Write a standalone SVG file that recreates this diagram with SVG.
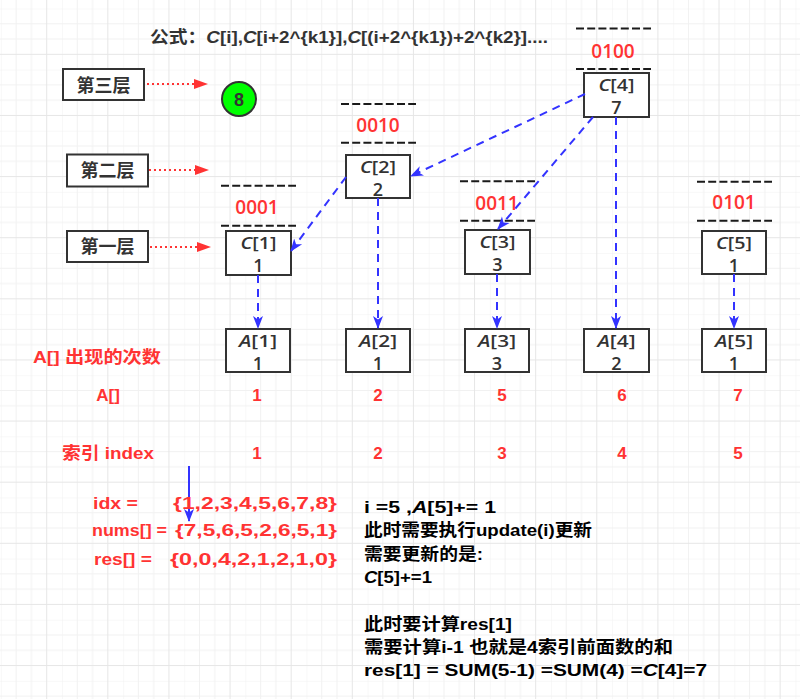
<svg xmlns="http://www.w3.org/2000/svg" width="800" height="699" viewBox="0 0 800 699">
<defs>
<pattern id="grid" patternUnits="userSpaceOnUse" x="0.86" y="8.5" width="61.12" height="61.12">
<path d="M0,0V61.12M15.28,0V61.12M30.56,0V61.12M0,0H61.12M0,15.28H61.12M0,30.56H61.12" stroke="#f1f1f1" stroke-width="1" fill="none"/>
<path d="M45.84,0V61.12M0,45.84H61.12" stroke="#e6e6e6" stroke-width="1" fill="none"/>
</pattern>
<marker id="blue" markerUnits="userSpaceOnUse" markerWidth="14" markerHeight="12" refX="12" refY="5" orient="auto" viewBox="0 0 14 10">
<path d="M0,0 L13,5 L0,10 L3.5,5 z" fill="#3333FF"/>
</marker>
<marker id="red" markerUnits="userSpaceOnUse" markerWidth="14" markerHeight="12" refX="13" refY="5" orient="auto" viewBox="0 0 14 10">
<path d="M0,0 L14,5 L0,10 z" fill="#FF3333"/>
</marker>
<style>
.t{font-family:"Comic Sans MS","Liberation Sans","Noto Sans CJK SC",sans-serif;font-weight:bold;}
.lbl{font-size:18px;fill:#333333;text-anchor:middle;}
.box{fill:#ffffff;stroke:#333333;stroke-width:2;}
.nt{font-family:"Comic Sans MS","Open Sans",sans-serif;font-size:16.5px;fill:#333333;text-anchor:middle;font-weight:600;}
.n2{font-size:18px;}
.bin{font-family:"Comic Sans MS","Open Sans",sans-serif;font-size:19px;fill:#FF3333;text-anchor:middle;font-weight:600;}
.red{font-size:17px;fill:#FF3333;}
.redc{font-size:17px;fill:#FF3333;text-anchor:middle;}
.blk{font-size:17px;fill:#000000;}
.dash{stroke:#1a1a1a;stroke-width:2;stroke-dasharray:8 3.2;fill:none;}
.bl{stroke:#3333FF;stroke-width:2;stroke-dasharray:8 6;fill:none;marker-end:url(#blue);}
.rd{stroke:#FF3333;stroke-width:2;stroke-dasharray:2 3;fill:none;marker-end:url(#red);}
</style>
</defs>
<rect width="800" height="699" fill="#ffffff"/>
<rect width="800" height="699" fill="url(#grid)"/>

<text class="t" x="150" y="43" font-size="17" fill="#333333" textLength="398" lengthAdjust="spacingAndGlyphs">公式：<tspan font-style="italic">C</tspan>[i],<tspan font-style="italic">C</tspan>[i+2^{k1}],<tspan font-style="italic">C</tspan>[(i+2^{k1})+2^{k2}]....</text>

<g id="layer3">
<rect class="box" x="63" y="69" width="81" height="31"/>
<text class="t lbl" x="103.5" y="91.5">第三层</text>
</g>
<g id="layer2">
<rect class="box" x="67" y="154.5" width="81" height="32"/>
<text class="t lbl" x="107.5" y="177">第二层</text>
</g>
<g id="layer1">
<rect class="box" x="67" y="231" width="81" height="31"/>
<text class="t lbl" x="107.5" y="253">第一层</text>
</g>

<g id="node8">
<circle cx="239" cy="99" r="17" fill="#00FF00" stroke="#333333" stroke-width="2"/>
<text class="t lbl" x="239" y="105.5">8</text>
</g>

<g id="bits">
<path class="dash" d="M221,185.7H296M221,225.7H296"/>
<text class="t bin" x="257" y="213.5">0001</text>
<path class="dash" d="M341,104H416M341,142.7H416"/>
<text class="t bin" x="378" y="131.5">0010</text>
<path class="dash" d="M460,181.3H535M460,220.7H535"/>
<text class="t bin" x="497" y="209.5">0011</text>
<path class="dash" d="M576,28.5H651M576,69H651"/>
<text class="t bin" x="613" y="57.5">0100</text>
<path class="dash" d="M697,181.7H772M697,220.7H772"/>
<text class="t bin" x="734" y="209">0101</text>
</g>

<g id="C1"><rect class="box" x="226" y="231" width="65" height="44"/>
<text class="t nt" x="258.5" y="249" textLength="36" lengthAdjust="spacingAndGlyphs"><tspan font-style="italic">C</tspan>[1]</text><text class="t nt n2" x="258.5" y="271.5">1</text></g>
<g id="C2"><rect class="box" x="346" y="155" width="64" height="43"/>
<text class="t nt" x="378" y="173" textLength="36" lengthAdjust="spacingAndGlyphs"><tspan font-style="italic">C</tspan>[2]</text><text class="t nt n2" x="378" y="195.5">2</text></g>
<g id="C3"><rect class="box" x="465" y="230" width="65" height="44"/>
<text class="t nt" x="497.5" y="248" textLength="36" lengthAdjust="spacingAndGlyphs"><tspan font-style="italic">C</tspan>[3]</text><text class="t nt n2" x="497.5" y="270.5">3</text></g>
<g id="C4"><rect class="box" x="584" y="73" width="65" height="44"/>
<text class="t nt" x="616.5" y="91" textLength="36" lengthAdjust="spacingAndGlyphs"><tspan font-style="italic">C</tspan>[4]</text><text class="t nt n2" x="616.5" y="113.5">7</text></g>
<g id="C5"><rect class="box" x="702" y="231" width="64" height="43"/>
<text class="t nt" x="734" y="249" textLength="36" lengthAdjust="spacingAndGlyphs"><tspan font-style="italic">C</tspan>[5]</text><text class="t nt n2" x="734" y="271.5">1</text></g>

<g id="A1"><rect class="box" x="226" y="329" width="64" height="43"/>
<text class="t nt" x="258" y="347" textLength="38" lengthAdjust="spacingAndGlyphs"><tspan font-style="italic">A</tspan>[1]</text><text class="t nt n2" x="258" y="369.5">1</text></g>
<g id="A2"><rect class="box" x="346" y="329" width="64" height="43"/>
<text class="t nt" x="378" y="347" textLength="38" lengthAdjust="spacingAndGlyphs"><tspan font-style="italic">A</tspan>[2]</text><text class="t nt n2" x="378" y="369.5">1</text></g>
<g id="A3"><rect class="box" x="465" y="329" width="64" height="43"/>
<text class="t nt" x="497" y="347" textLength="38" lengthAdjust="spacingAndGlyphs"><tspan font-style="italic">A</tspan>[3]</text><text class="t nt n2" x="497" y="369.5">3</text></g>
<g id="A4"><rect class="box" x="584" y="329" width="65" height="43"/>
<text class="t nt" x="616.5" y="347" textLength="38" lengthAdjust="spacingAndGlyphs"><tspan font-style="italic">A</tspan>[4]</text><text class="t nt n2" x="616.5" y="369.5">2</text></g>
<g id="A5"><rect class="box" x="702" y="329" width="64" height="43"/>
<text class="t nt" x="734" y="347" textLength="38" lengthAdjust="spacingAndGlyphs"><tspan font-style="italic">A</tspan>[5]</text><text class="t nt n2" x="734" y="369.5">1</text></g>

<g id="connectors">
<path class="rd" d="M147,84H207"/>
<path class="rd" d="M149,170H208"/>
<path class="rd" d="M150,247H210"/>
<path class="bl" d="M258,275V328"/>
<path class="bl" d="M378,198V328"/>
<path class="bl" d="M497,274V328"/>
<path class="bl" d="M616,117V328"/>
<path class="bl" d="M734,274V328"/>
<path class="bl" d="M585,94L411,176"/>
<path class="bl" d="M593,117L498,229"/>
<path class="bl" d="M346,177L291,251"/>
<path d="M189,466V521" stroke="#3333FF" stroke-width="2" fill="none" marker-end="url(#blue)"/>
</g>

<g id="rowlabels">
<text class="t red" x="33" y="363" textLength="128" lengthAdjust="spacingAndGlyphs">A[] 出现的次数</text>
<text class="t redc" x="108" y="401">A[]</text>
<text class="t red" x="62" y="459" textLength="92" lengthAdjust="spacingAndGlyphs">索引 index</text>
</g>
<g id="values">
<text class="t redc" x="257" y="401">1</text>
<text class="t redc" x="378" y="401">2</text>
<text class="t redc" x="502" y="401">5</text>
<text class="t redc" x="622" y="401">6</text>
<text class="t redc" x="738" y="401">7</text>
<text class="t redc" x="257" y="459">1</text>
<text class="t redc" x="378" y="459">2</text>
<text class="t redc" x="502" y="459">3</text>
<text class="t redc" x="622" y="459">4</text>
<text class="t redc" x="738" y="459">5</text>
</g>

<g id="arrays">
<text class="t red" x="93" y="509" textLength="45" lengthAdjust="spacingAndGlyphs">idx =</text>
<text class="t red" x="173" y="509" textLength="164" lengthAdjust="spacingAndGlyphs">{1,2,3,4,5,6,7,8}</text>
<text class="t red" x="92" y="536" textLength="75" lengthAdjust="spacingAndGlyphs">nums[] =</text>
<text class="t red" x="175" y="536" textLength="162" lengthAdjust="spacingAndGlyphs">{7,5,6,5,2,6,5,1}</text>
<text class="t red" x="94" y="565" textLength="58" lengthAdjust="spacingAndGlyphs">res[] =</text>
<text class="t red" x="170" y="565" textLength="167" lengthAdjust="spacingAndGlyphs">{0,0,4,2,1,2,1,0}</text>
</g>

<g id="notes">
<text class="t blk" x="364" y="512.5" textLength="132" lengthAdjust="spacingAndGlyphs" xml:space="preserve">i =5 ,<tspan font-style="italic">A</tspan>[5]+= 1</text>
<text class="t blk" x="364" y="536" textLength="228" lengthAdjust="spacingAndGlyphs">此时需要执行update(i)更新</text>
<text class="t blk" x="364" y="559.5" textLength="119" lengthAdjust="spacingAndGlyphs">需要更新的是:</text>
<text class="t blk" x="364" y="583" textLength="68" lengthAdjust="spacingAndGlyphs"><tspan font-style="italic">C</tspan>[5]+=1</text>
<text class="t blk" x="364" y="629.5" textLength="148" lengthAdjust="spacingAndGlyphs">此时要计算res[1]</text>
<text class="t blk" x="364" y="653" textLength="309" lengthAdjust="spacingAndGlyphs" xml:space="preserve">需要计算i-1 也就是4索引前面数的和</text>
<text class="t blk" x="364" y="676" textLength="343" lengthAdjust="spacingAndGlyphs" xml:space="preserve">res[1] = SUM(5-1) =SUM(4) =<tspan font-style="italic">C</tspan>[4]=7</text>
</g>
</svg>
